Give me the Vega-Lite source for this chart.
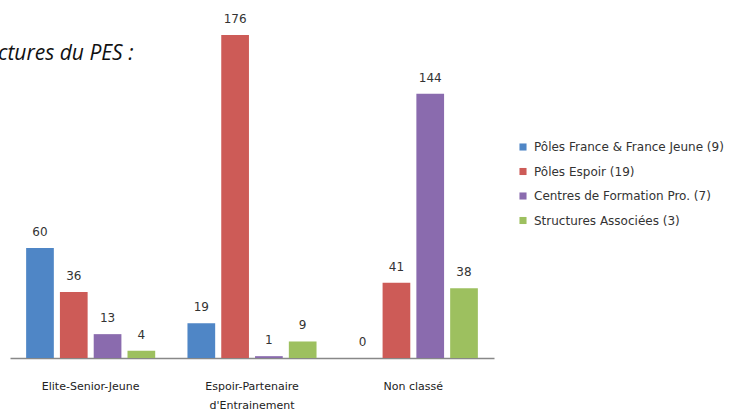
{
  "$schema": "https://vega.github.io/schema/vega-lite/v6.json",
  "autosize": "none",
  "width": 484,
  "height": 323,
  "padding": {"left": 10, "top": 35, "right": 242, "bottom": 55},
  "background": "white",
  "title": {
    "text": "Structures du PES :",
    "anchor": "start",
    "frame": "group",
    "orient": "top",
    "baseline": "top",
    "offset": -10,
    "dx": -50,
    "dy": 41,
    "font": "Open Sans",
    "fontStyle": "italic",
    "fontWeight": "normal",
    "fontSize": 21,
    "color": "#111"
  },
  "data": {
    "values": [
      {"categorie": "Elite-Senior-Jeune", "structure": "Pôles France & France Jeune (9)", "n": 60},
      {"categorie": "Elite-Senior-Jeune", "structure": "Pôles Espoir (19)", "n": 36},
      {"categorie": "Elite-Senior-Jeune", "structure": "Centres de Formation Pro. (7)", "n": 13},
      {"categorie": "Elite-Senior-Jeune", "structure": "Structures Associées (3)", "n": 4},
      {"categorie": "Espoir-Partenaire|d'Entrainement", "structure": "Pôles France & France Jeune (9)", "n": 19},
      {"categorie": "Espoir-Partenaire|d'Entrainement", "structure": "Pôles Espoir (19)", "n": 176},
      {"categorie": "Espoir-Partenaire|d'Entrainement", "structure": "Centres de Formation Pro. (7)", "n": 1},
      {"categorie": "Espoir-Partenaire|d'Entrainement", "structure": "Structures Associées (3)", "n": 9},
      {"categorie": "Non classé", "structure": "Pôles France & France Jeune (9)", "n": 0},
      {"categorie": "Non classé", "structure": "Pôles Espoir (19)", "n": 41},
      {"categorie": "Non classé", "structure": "Centres de Formation Pro. (7)", "n": 144},
      {"categorie": "Non classé", "structure": "Structures Associées (3)", "n": 38}
    ]
  },
  "encoding": {
    "x": {
      "field": "categorie",
      "type": "nominal",
      "sort": null,
      "scale": {"paddingInner": 0.2, "paddingOuter": 0.1},
      "axis": {
        "title": null,
        "labelAngle": 0,
        "ticks": false,
        "domainColor": "#888",
        "domainWidth": 1.5,
        "labelPadding": 22,
        "labelFont": "DejaVu Sans",
        "labelFontSize": 11,
        "labelColor": "#222",
        "labelLineHeight": 19,
        "labelExpr": "split(datum.label, '|')"
      }
    },
    "xOffset": {
      "field": "structure",
      "type": "nominal",
      "sort": null,
      "scale": {"paddingInner": 0.18}
    },
    "y": {
      "field": "n",
      "type": "quantitative",
      "scale": {"domain": [0, 176], "nice": false},
      "axis": null
    }
  },
  "layer": [
    {
      "mark": {"type": "bar"},
      "encoding": {
        "color": {
          "field": "structure",
          "type": "nominal",
          "sort": null,
          "scale": {
            "domain": ["Pôles France & France Jeune (9)", "Pôles Espoir (19)", "Centres de Formation Pro. (7)", "Structures Associées (3)"],
            "range": ["#4F86C6", "#CD5B57", "#8A6BAE", "#9DC05F"]
          },
          "legend": {
            "title": null,
            "orient": "none",
            "legendX": 507,
            "legendY": 106,
            "symbolType": "square",
            "symbolSize": 50,
            "symbolStrokeWidth": 0,
            "labelFont": "DejaVu Sans",
            "labelFontSize": 12,
            "labelColor": "#333",
            "rowPadding": 12.5,
            "labelOffset": 5,
            "labelLimit": 260
          }
        }
      }
    },
    {
      "mark": {"type": "text", "baseline": "bottom", "dy": -9, "font": "DejaVu Sans", "fontSize": 12, "color": "#333"},
      "encoding": {
        "text": {"field": "n", "type": "quantitative"}
      }
    }
  ],
  "config": {"view": {"stroke": null}}
}
